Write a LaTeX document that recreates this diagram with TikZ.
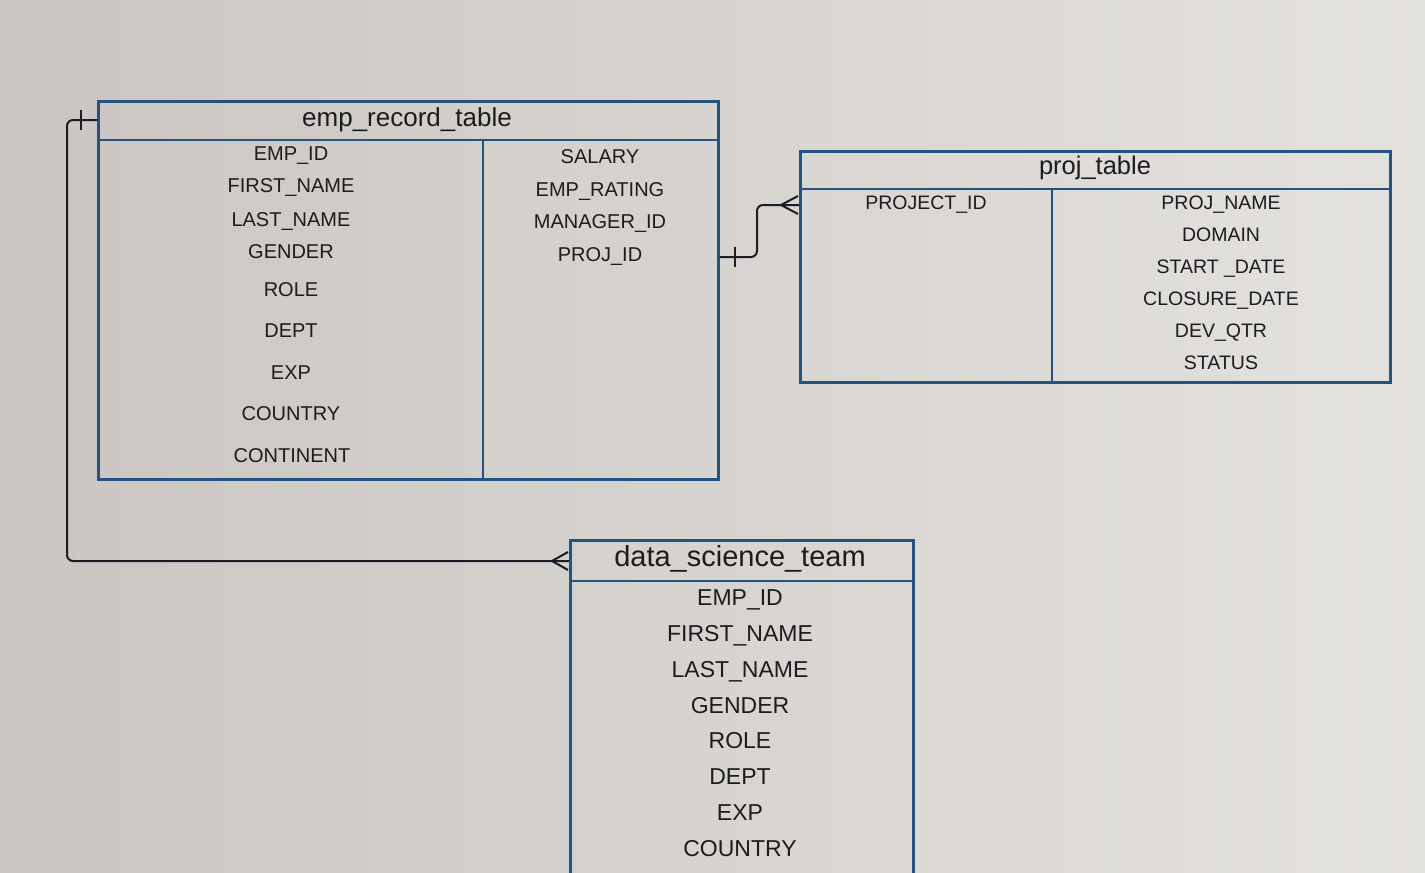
\documentclass[tikz,border=0pt]{standalone}
\usepackage{fontspec}
\setmainfont{Liberation Sans}
\begin{document}
\begin{tikzpicture}[x=1pt,y=-1pt,
  tbl/.style={draw=boxblue, line width=2.6pt, inner sep=0pt, anchor=north west},
  sep/.style={draw=boxblue, line width=2.6pt},
  conn/.style={draw=connblack, line width=2pt, rounded corners=6pt},
  tickmark/.style={draw=connblack, line width=2pt},
  txtbox/.style={text=txt, inner sep=0pt, text depth=0pt},
  fld/.style={txtbox, text height=14.4pt, font=\fontsize{20}{24}\selectfont},
  pfld/.style={txtbox, text height=14pt, font=\fontsize{19.5}{23}\selectfont},
  dfld/.style={txtbox, text height=16.5pt, font=\fontsize{23}{27}\selectfont},
  ttl/.style={txtbox}
]
\definecolor{boxblue}{RGB}{38,82,128}
\definecolor{connblack}{RGB}{25,30,38}
\definecolor{txt}{RGB}{28,28,30}
\definecolor{bgl}{RGB}{202,197,193}
\definecolor{bgr}{RGB}{228,226,223}
\useasboundingbox (0,0) rectangle (1425,873);
\clip (0,0) rectangle (1425,873);
\shade[left color=bgl, right color=bgr] (0,0) rectangle (1425,873);

% emp_record_table
\node[tbl, minimum width=620pt, minimum height=378pt] (emp) at (97,100) {};
\draw[sep] (97,140) -- (717,140);
\draw[sep] (483,140) -- (483,478);
\node[ttl, text height=18.7pt, font=\fontsize{26}{30}\selectfont] (empt) at (407,117) {emp\_record\_table};
\node[fld] (e1) at (291,153) {EMP\_ID};
\node[fld] (e2) at (291,185) {FIRST\_NAME};
\node[fld] (e3) at (291,219) {LAST\_NAME};
\node[fld] (e4) at (291,251) {GENDER};
\node[fld] (e5) at (291,289) {ROLE};
\node[fld] (e6) at (291,330) {DEPT};
\node[fld] (e7) at (291,372) {EXP};
\node[fld] (e8) at (291,413) {COUNTRY};
\node[fld] (e9) at (292,455) {CONTINENT};
\node[fld] (s1) at (600,156) {SALARY};
\node[fld] (s2) at (600,189) {EMP\_RATING};
\node[fld] (s3) at (600,221) {MANAGER\_ID};
\node[fld] (s4) at (600,254) {PROJ\_ID};

% proj_table
\node[tbl, minimum width=590pt, minimum height=231pt] (proj) at (799,150) {};
\draw[sep] (799,189) -- (1389,189);
\draw[sep] (1052,189) -- (1052,381);
\node[ttl, text height=18.4pt, font=\fontsize{25.5}{30}\selectfont] (projt) at (1095,165) {proj\_table};
\node[pfld] (p0) at (926,202) {PROJECT\_ID};
\node[pfld] (p1) at (1221,202) {PROJ\_NAME};
\node[pfld] (p2) at (1221,234) {DOMAIN};
\node[pfld] (p3) at (1221,266) {START \_DATE};
\node[pfld] (p4) at (1221,298) {CLOSURE\_DATE};
\node[pfld] (p5) at (1221,330) {DEV\_QTR};
\node[pfld] (p6) at (1221,362) {STATUS};

% data_science_team
\node[tbl, minimum width=343pt, minimum height=360pt] (dst) at (569,539) {};
\draw[sep] (569,581) -- (912,581);
\node[ttl, text height=20.9pt, font=\fontsize{29}{34}\selectfont] (dstt) at (740,556) {data\_science\_team};
\node[dfld] (d1) at (740,597) {EMP\_ID};
\node[dfld] (d2) at (740,633) {FIRST\_NAME};
\node[dfld] (d3) at (740,669) {LAST\_NAME};
\node[dfld] (d4) at (740,705) {GENDER};
\node[dfld] (d5) at (740,740) {ROLE};
\node[dfld] (d6) at (740,776) {DEPT};
\node[dfld] (d7) at (740,812) {EXP};
\node[dfld] (d8) at (740,848) {COUNTRY};

% connector emp -> proj
\coordinate (a1) at (emp.east |- 0,257);
\coordinate (a2) at (proj.west |- 0,205);
\draw[conn] (a1) -- (757,257) -- (757,205) -- (a2);
\draw[tickmark] (735,247) -- (735,267);
\draw[tickmark] (781,205) -- (798,196);
\draw[tickmark] (781,205) -- (798,214);

% connector emp -> data_science_team
\coordinate (b1) at (emp.west |- 0,120);
\coordinate (b2) at (dst.west |- 0,561);
\draw[conn] (b1) -- (67,120) -- (67,561) -- (b2);
\draw[tickmark] (81,110) -- (81,130);
\draw[tickmark] (552,561) -- (568,552);
\draw[tickmark] (552,561) -- (568,570);
\end{tikzpicture}
\end{document}
